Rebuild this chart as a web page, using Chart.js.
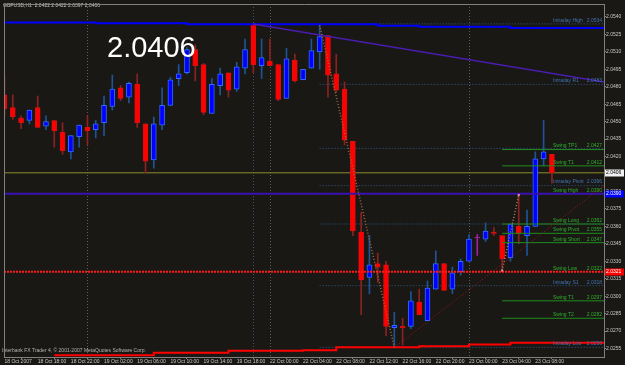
<!DOCTYPE html>
<html>
<head>
<meta charset="utf-8">
<script src="https://cdn.jsdelivr.net/npm/chart.js@4.4.0/dist/chart.umd.min.js"></script>
<title>GBPUSD,H1</title>
<style>
  body { margin: 0; background: #1a1814; }
  canvas { display: block; }
</style>
</head>
<body>
<canvas id="priceChart" width="625" height="365"></canvas>
<script>
// hourly bars, first one is 18 Oct 2007 14:00
const opens  = [2.0473, 2.0462, 2.0453, 2.0451, 2.0462, 2.0446, 2.0451, 2.0441, 2.0424, 2.0437,
                2.0445, 2.0443, 2.0449, 2.0463, 2.0479, 2.0471, 2.0482, 2.0448, 2.0417, 2.0447,
                2.0464, 2.0487, 2.0492, 2.0512, 2.0499, 2.0457, 2.0481, 2.0492, 2.0478, 2.0496,
                2.0533, 2.0498, 2.0502, 2.0499, 2.0470, 2.0503, 2.0486, 2.0496, 2.0510, 2.0524,
                2.0491, 2.0478, 2.0433, 2.0355, 2.0316, 2.0328, 2.0327, 2.0273, 2.0274, 2.0274,
                2.0295, 2.0279, 2.0306, 2.0328, 2.0306, 2.0321, 2.0330, 2.0350, 2.0349, 2.0355,
                2.0352, 2.0333, 2.0360, 2.0352, 2.0360, 2.0418, 2.0422];
const highs  = [2.0490, 2.0473, 2.0455, 2.0460, 2.0472, 2.0455, 2.0451, 2.0449, 2.0438, 2.0447,
                2.0455, 2.0451, 2.0472, 2.0490, 2.0481, 2.0484, 2.0491, 2.0448, 2.0454, 2.0479,
                2.0488, 2.0499, 2.0514, 2.0516, 2.0500, 2.0487, 2.0496, 2.0492, 2.0501, 2.0521,
                2.0534, 2.0521, 2.0521, 2.0499, 2.0513, 2.0508, 2.0495, 2.0521, 2.0533, 2.0524,
                2.0508, 2.0484, 2.0433, 2.0372, 2.0352, 2.0337, 2.0330, 2.0286, 2.0281, 2.0304,
                2.0306, 2.0313, 2.0339, 2.0328, 2.0325, 2.0332, 2.0353, 2.0353, 2.0363, 2.0359,
                2.0352, 2.0362, 2.0387, 2.0374, 2.0424, 2.0451, 2.0422];
const lows   = [2.0456, 2.0452, 2.0444, 2.0448, 2.0445, 2.0443, 2.0428, 2.0422, 2.0418, 2.0428,
                2.0430, 2.0436, 2.0438, 2.0460, 2.0468, 2.0466, 2.0445, 2.0406, 2.0410, 2.0443,
                2.0464, 2.0481, 2.0491, 2.0485, 2.0456, 2.0457, 2.0473, 2.0471, 2.0476, 2.0491,
                2.0492, 2.0487, 2.0498, 2.0468, 2.0470, 2.0484, 2.0486, 2.0496, 2.0495, 2.0471,
                2.0475, 2.0430, 2.0352, 2.0284, 2.0302, 2.0312, 2.0266, 2.0256, 2.0258, 2.0272,
                2.0284, 2.0279, 2.0306, 2.0305, 2.0302, 2.0318, 2.0330, 2.0335, 2.0347, 2.0352,
                2.0322, 2.0330, 2.0345, 2.0335, 2.0360, 2.0412, 2.0397];
const closes = [2.0461, 2.0454, 2.0449, 2.0460, 2.0445, 2.0450, 2.0442, 2.0425, 2.0438, 2.0447,
                2.0442, 2.0448, 2.0464, 2.0478, 2.0470, 2.0483, 2.0449, 2.0416, 2.0448, 2.0464,
                2.0486, 2.0491, 2.0512, 2.0498, 2.0458, 2.0482, 2.0491, 2.0477, 2.0497, 2.0512,
                2.0499, 2.0505, 2.0498, 2.0469, 2.0504, 2.0485, 2.0495, 2.0511, 2.0523, 2.0490,
                2.0477, 2.0434, 2.0356, 2.0314, 2.0327, 2.0325, 2.0274, 2.0275, 2.0273, 2.0296,
                2.0284, 2.0307, 2.0328, 2.0305, 2.0320, 2.0330, 2.0349, 2.0350, 2.0356, 2.0354,
                2.0332, 2.0362, 2.0354, 2.0360, 2.0418, 2.0424, 2.0406];

const timeTicks  = [0, 4, 8, 12, 16, 20, 24, 28, 32, 36, 40, 44, 48, 52, 56, 60, 64];
const timeLabels = ['18 Oct 2007', '18 Oct 18:00', '18 Oct 22:00', '19 Oct 02:00', '19 Oct 06:00',
                    '19 Oct 10:00', '19 Oct 14:00', '19 Oct 18:00', '22 Oct 00:00', '22 Oct 04:00',
                    '22 Oct 08:00', '22 Oct 12:00', '22 Oct 16:00', '22 Oct 20:00', '23 Oct 00:00',
                    '23 Oct 04:00', '23 Oct 08:00'];
const priceTicks = [2.0255, 2.0270, 2.0285, 2.0300, 2.0315, 2.0330, 2.0345, 2.0360, 2.0375, 2.0390,
                    2.0405, 2.0420, 2.0435, 2.0450, 2.0465, 2.0480, 2.0495, 2.0510, 2.0525, 2.0540];

const dayStarts = [10, 32, 56];
const markerBar = 30;

// intraday levels (dotted, from bar 38)
const intradayStart  = 38;
const intradayNames  = ['Intraday High', 'Intraday R1', 'Intraday Pivot', 'Intraday S1', 'Intraday Low'];
const intradayText   = ['2.0534', '2.0483', '2.0396', '2.0318', '2.0256'];
const intradayLevels = [2.0534, 2.0482, 2.0395, 2.0309, 2.0256];
const dottedExtra    = [2.0427, 2.0362];

// swing levels (green, from bar 60)
const swingStart  = 60;
const swingNames  = ['Swing TP1', 'Swing T1', 'Swing High', 'Swing Long', 'Swing Pivot',
                     'Swing Short', 'Swing Low', 'Swing T1', 'Swing T2'];
const swingText   = ['2.0427', '2.0412', '2.0390', '2.0362', '2.0355', '2.0347', '2.0322', '2.0297', '2.0282'];
const swingLevels = [2.0426, 2.0412, 2.0388, 2.0362, 2.0354, 2.0346, 2.0321, 2.0296, 2.0281];

const bidPrice = 2.0406;
const swingHighLine = 2.0388;
const swingLowLine = 2.0321;

const upperBandX = [0, 11, 22, 45, 50, 61, 73];
const upperBandY = [2.05353, 2.05346, 2.05338, 2.05323, 2.05315, 2.05304, 2.05304];
const lowerBandX = [6, 18, 27, 36, 40, 50, 56, 61, 73];
const lowerBandY = [2.02491, 2.02513, 2.02530, 2.02536, 2.02560, 2.02570, 2.02585, 2.02599, 2.02599];

const highTrendX = [30, 73];
const highTrendY = [2.0534, 2.04833];
const lowTrendX  = [47, 73];
const lowTrendY  = [2.0256, 2.0399];

const zigA_X = [38, 47];
const zigA_Y = [2.0533, 2.0256];
const zigB_X = [60, 62];
const zigB_Y = [2.0322, 2.0387];

const xMin = -0.06, xMax = 72.28;
const yMin = 2.02477, yMax = 2.05511;

const bars = opens.map((_, i) => i);
function bodyColor(i) {
  if (closes[i] > opens[i]) return '#0000ff';
  if (closes[i] < opens[i]) return '#ff0000';
  return '#a020a0';
}
function edgeColor(i) {
  if (closes[i] > opens[i]) return '#2f6cff';
  if (closes[i] < opens[i]) return '#d81010';
  return '#a020a0';
}
function wickColor(i) {
  if (closes[i] > opens[i]) return '#1f5396';
  if (closes[i] < opens[i]) return '#8a2222';
  return '#a020a0';
}
const pts = (xs, ys) => xs.map((x, i) => ({ x: x, y: ys[i] }));
const flat = (v, a, b) => [{ x: a, y: v }, { x: b, y: v }];

function lineSet(data, color, width, dash, order, extra) {
  return Object.assign({
    type: 'line', data: data, borderColor: color, borderWidth: width,
    borderDash: dash || [], pointRadius: 0, fill: false, tension: 0, order: order
  }, extra || {});
}

const datasets = [];
datasets.push(lineSet(flat(bidPrice, xMin, xMax), '#8c8c2c', 1, [], 30));
intradayLevels.concat(dottedExtra).forEach(v => {
  datasets.push(lineSet(flat(v, intradayStart, xMax), '#2d5d8f', 1, [1, 2], 29));
});
datasets.push({
  type: 'bar', order: 21, grouped: false, barThickness: 1,
  data: bars.map(i => ({ x: i, y: [lows[i], highs[i]] })),
  backgroundColor: bars.map(wickColor)
});
datasets.push({
  type: 'bar', order: 20, grouped: false, barThickness: 5, minBarLength: 1,
  borderWidth: 1, borderSkipped: false,
  data: bars.map(i => ({ x: i, y: [opens[i], closes[i]] })),
  backgroundColor: bars.map(bodyColor),
  borderColor: bars.map(edgeColor)
});
swingLevels.forEach((v, i) => {
  if (swingNames[i] === 'Swing High' || swingNames[i] === 'Swing Low') return;
  datasets.push(lineSet(flat(v, swingStart, xMax), '#1e8c1e', 1, [], 10));
});
datasets.push(lineSet(flat(swingHighLine, xMin, xMax), '#3a10b0', 2, [], 9));
datasets.push(lineSet(flat(swingLowLine, xMin, xMax), '#ff1a1a', 2, [2, 1], 9));
datasets.push(lineSet(pts(upperBandX, upperBandY), '#0000ff', 2, [], 8, { stepped: 'before' }));
datasets.push(lineSet(pts(lowerBandX, lowerBandY), '#ff0000', 2, [], 8, { stepped: 'before' }));
datasets.push(lineSet(pts(highTrendX, highTrendY), '#4a1cb0', 1.5, [], 7));
datasets.push(lineSet(pts(lowTrendX, lowTrendY), '#a01414', 1, [1, 2], 7));
datasets.push(lineSet(pts(zigA_X, zigA_Y), '#a8683a', 1.5, [1, 2], 6));
datasets.push(lineSet(pts(zigB_X, zigB_Y), '#b87a6a', 1.5, [1, 2], 6,
  { pointRadius: 1.5, pointStyle: 'rect', pointBackgroundColor: '#d89090', pointBorderWidth: 0 }));

const smallFont = { family: 'Liberation Sans', size: 5 };

const overlay = {
  id: 'mtOverlay',
  beforeDraw(chart) {
    const c = chart.ctx;
    c.save();
    c.fillStyle = '#1a1814';
    c.fillRect(0, 0, chart.width, chart.height);
    c.restore();
  },
  beforeDatasetsDraw(chart) {
    const c = chart.ctx, a = chart.chartArea, xs = chart.scales.x;
    c.save();
    c.lineWidth = 1;
    c.setLineDash([1, 2]);
    dayStarts.concat([markerBar]).forEach(b => {
      const px = Math.round(xs.getPixelForValue(b)) + 0.5;
      c.strokeStyle = b === markerBar ? '#4c4c70' : '#5e5e5e';
      c.beginPath();
      c.moveTo(px, a.top);
      c.lineTo(px, a.bottom);
      c.stroke();
    });
    c.restore();
  },
  afterDatasetsDraw(chart) {
    const c = chart.ctx, a = chart.chartArea, ys = chart.scales.y;
    c.save();
    c.font = '5px "Liberation Sans"';
    c.textBaseline = 'middle';
    const put = (name, txt, v, col) => {
      const py = ys.getPixelForValue(v) - 3.5;
      c.fillStyle = col;
      c.textAlign = 'left';
      c.fillText(name, a.right - 51, py);
      c.textAlign = 'right';
      c.fillText(txt, a.right - 2, py);
    };
    intradayNames.forEach((n, i) => put(n, intradayText[i], intradayLevels[i], '#3f74b4'));
    swingNames.forEach((n, i) => put(n, swingText[i], swingLevels[i], '#2fae2f'));

    c.textAlign = 'left';
    c.fillStyle = '#c4c4c4';
    const last = opens.length - 1;
    c.fillText('GBPUSD,H1  ' + [opens[last], highs[last], lows[last], closes[last]].map(v => v.toFixed(4)).join(' '), 3, 6);
    c.fillStyle = '#b4b4b4';
    c.fillText('Interbank FX Trader 4, \u00a9 2001-2007 MetaQuotes Software Corp.', 2, 351);

    c.font = '29px "Liberation Sans"';
    c.textBaseline = 'alphabetic';
    c.fillStyle = '#ffffff';
    c.fillText(bidPrice.toFixed(4), 107, 57);
    c.restore();
  },
  afterDraw(chart) {
    const c = chart.ctx, a = chart.chartArea, ys = chart.scales.y;
    c.save();
    c.strokeStyle = '#808080';
    c.lineWidth = 1;
    c.beginPath();
    c.moveTo(a.left + 0.5, a.bottom);
    c.lineTo(a.left + 0.5, a.top + 0.5);
    c.lineTo(a.right, a.top + 0.5);
    c.stroke();
    const boxes = [
      [bidPrice, '#f0f0f0', '#000000', bidPrice],
      [swingHighLine, '#0000ff', '#ffffff', 2.0390],
      [swingLowLine, '#ff0000', '#ffffff', swingLowLine]
    ];
    c.font = '5px "Liberation Sans"';
    c.textBaseline = 'middle';
    c.textAlign = 'left';
    boxes.forEach(b => {
      const py = ys.getPixelForValue(b[0]);
      c.fillStyle = b[1];
      c.fillRect(a.right + 1, Math.round(py) - 3.5, 19, 7);
      c.fillStyle = b[2];
      c.fillText(b[3].toFixed(4), a.right + 2, py);
    });
    c.restore();
  }
};

new Chart(document.getElementById('priceChart'), {
  type: 'line',
  data: { datasets: datasets },
  options: {
    responsive: false,
    animation: false,
    events: [],
    layout: { padding: { left: 1, top: 1, right: 0, bottom: 0 } },
    plugins: { legend: { display: false }, tooltip: { enabled: false } },
    scales: {
      x: {
        type: 'linear', min: xMin, max: xMax, offset: false,
        afterBuildTicks: s => { s.ticks = timeTicks.map(v => ({ value: v })); },
        afterFit: s => { s.height = 8; s.paddingLeft = 0; s.paddingRight = 0; },
        ticks: {
          autoSkip: false, maxRotation: 0, minRotation: 0, align: 'start', padding: 0,
          color: '#c8c8c8', font: smallFont,
          callback: (v, i) => timeLabels[i]
        },
        grid: { drawOnChartArea: false, tickLength: 2, color: '#808080' },
        border: { color: '#808080' }
      },
      y: {
        position: 'right', min: yMin, max: yMax,
        afterBuildTicks: s => { s.ticks = priceTicks.map(v => ({ value: v })); },
        afterFit: s => { s.width = 21; s.paddingTop = 0; s.paddingBottom = 0; },
        ticks: {
          autoSkip: false, padding: 0, color: '#c8c8c8', font: smallFont,
          callback: v => v.toFixed(4)
        },
        grid: { drawOnChartArea: false, tickLength: 2, color: '#808080' },
        border: { color: '#808080' }
      }
    }
  },
  plugins: [overlay]
});
</script>
</body>
</html>
